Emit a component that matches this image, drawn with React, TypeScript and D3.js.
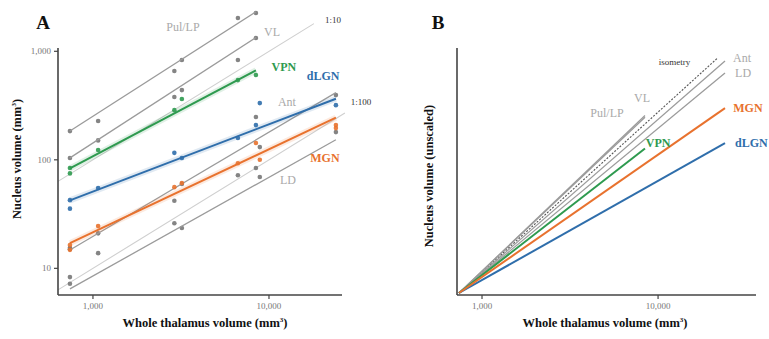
import React, { useRef, useEffect } from 'react';
import * as d3 from 'd3';

// individuals: whole thalamus volume (mm3)
const thalamusVol = [740, 740, 1070, 2900, 3200, 6660, 8430, 8870, 24000, 24000];

// nucleus volumes (mm3) per individual, null = not measured
const pulLP = [184, null, 228, 658, 832, 2026, 2254, null, null, null];
const vl = [104, null, 151, 379, 439, 832, 1327, null, null, null];
const vpn = [84, 75, 123, 287, 363, 543, 604, null, null, null];
const dlgn = [42.5, 35.5, 55, 116, 104, 159, 209, 333, 319, null];
const ant = [15.5, 15, 21, 42, 60, null, 248, 131, 395, null];
const mgn = [16.4, 14.8, 24.5, 56, 61, 93, 143, 100, 209, 196];
const ld = [8.3, 7.2, 13.8, 26, 23.5, 72, 84, 69.5, 180, null];

const nuclei = ['Pul/LP', 'VL', 'VPN', 'dLGN', 'Ant', 'MGN', 'LD'];
const nucleusValues = [pulLP, vl, vpn, dlgn, ant, mgn, ld];

// fitted allometric lines: exponent and predicted volume at 1,000 mm3
const fitSlope = [1.04, 1.05, 0.855, 0.62, 0.96, 0.765, 0.91];
const fitAt1000 = [252, 143, 108, 51, 19.7, 21.5, 8.5];

// reference ratio lines in A
const refLabels = ['1:10', '1:100'];
const refRatio = [10, 100];
const refEnd = [18000, 27000];
const isometryEnd = 21600;

const xTicks = [1000, 10000];
const yTicks = [10, 100, 1000];

const GRAY_TXT = '#a9a9a9';
const colors: Record<string, string> = {
  'Pul/LP': '#9b9b9b', VL: '#9b9b9b', Ant: '#9b9b9b', LD: '#9b9b9b',
  VPN: '#2e9a4f', dLGN: '#2f6eab', MGN: '#e8722e',
};
const labelColor: Record<string, string> = {
  'Pul/LP': GRAY_TXT, VL: GRAY_TXT, Ant: GRAY_TXT, LD: GRAY_TXT,
  VPN: '#2e9a4f', dLGN: '#2f6eab', MGN: '#e8722e',
};
const bold: Record<string, boolean> = { VPN: true, dLGN: true, MGN: true };

// label anchors (data coords)
const labelsA: [string, number, number][] = [
  ['Pul/LP', 3245, 1675], ['VL', 10400, 1506], ['VPN', 12160, 717], ['dLGN', 20300, 592],
  ['Ant', 12650, 341], ['MGN', 20800, 104], ['LD', 12830, 65],
];
const refLabelPos: [number, number][] = [[23100, 1942], [33350, 341]];
const labelsB: [string, number, number][] = [
  ['Pul/LP', 5130, 13.3], ['VL', 8110, 16.5], ['VPN', 10000, 8.66], ['Ant', 30000, 29.4],
  ['LD', 30400, 23.7], ['MGN', 32400, 14.3],
];

const FONT = '"Liberation Serif", "Times New Roman", serif';

const App = () => {
  const ref = useRef<SVGSVGElement>(null);

  useEffect(() => {
    const svg = d3.select(ref.current);
    svg.selectAll('*').remove();

    const line = d3.line<[number, number]>();

    // ---------- panel A ----------
    const xA = d3.scaleLog().domain([633, 25990]).range([58, 342]);
    const yA = d3.scaleLog().domain([5.68, 1000]).range([295, 51.3]);
    const gA = svg.append('g');

    const xDomA = xA.domain();
    // ratio lines
    refRatio.forEach((r, i) => {
      gA.append('path')
        .attr('d', line([[xA(xDomA[0]), yA(xDomA[0] / r)], [xA(refEnd[i]), yA(refEnd[i] / r)]]))
        .attr('stroke', '#cfcfcf').attr('stroke-width', 1.1).attr('fill', 'none');
      gA.append('text')
        .attr('x', xA(refLabelPos[i][0])).attr('y', yA(refLabelPos[i][1]))
        .attr('dy', '0.35em').attr('text-anchor', 'middle')
        .attr('font-family', FONT).attr('font-size', 9).attr('fill', '#333')
        .text(refLabels[i]);
    });

    const fitLine = (k: number, x0: number, x1: number, x: any, y: any) => {
      const f = (v: number) => fitAt1000[k] * Math.pow(v / 1000, fitSlope[k]);
      return line([[x(x0), y(f(x0))], [x(x1), y(f(x1))]]);
    };

    const drawOrder = [0, 1, 4, 6, 2, 3, 5];
    // gray lines and points first, coloured on top
    drawOrder.forEach((k) => {
      const name = nuclei[k];
      const vals = nucleusValues[k];
      const pts = thalamusVol.map((x, i) => [x, vals[i]] as [number, number | null])
        .filter((d) => d[1] != null) as [number, number][];
      const ext = d3.extent(pts, (d) => d[0]) as [number, number];
      const isColor = !!bold[name];
      if (isColor) {
        gA.append('path').attr('d', fitLine(k, ext[0], ext[1], xA, yA))
          .attr('stroke', colors[name]).attr('stroke-opacity', 0.15)
          .attr('stroke-width', 6).attr('fill', 'none');
      }
      gA.selectAll(null).data(pts).join('circle')
        .attr('cx', (d) => xA(d[0])).attr('cy', (d) => yA(d[1]))
        .attr('r', 2.3)
        .attr('fill', isColor ? colors[name] : '#777')
        .attr('fill-opacity', 0.9);
      gA.append('path').attr('d', fitLine(k, ext[0], ext[1], xA, yA))
        .attr('stroke', colors[name]).attr('stroke-width', isColor ? 2 : 1.3)
        .attr('fill', 'none');
    });

    labelsA.forEach(([name, x, y]) => {
      gA.append('text')
        .attr('x', xA(x)).attr('y', yA(y)).attr('dy', '0.35em')
        .attr('text-anchor', 'middle')
        .attr('font-family', FONT)
        .attr('font-size', 12)
        .attr('font-weight', bold[name] ? 'bold' : 'normal')
        .attr('fill', labelColor[name])
        .text(name);
    });

    // axes A
    const axisLine = '#444';
    gA.append('line').attr('x1', 58).attr('x2', 58).attr('y1', 48).attr('y2', 295)
      .attr('stroke', axisLine).attr('stroke-width', 1.6);
    gA.append('line').attr('x1', 58).attr('x2', 342).attr('y1', 295).attr('y2', 295)
      .attr('stroke', axisLine).attr('stroke-width', 1.6);
    yTicks.forEach((t) => {
      gA.append('line').attr('x1', 54).attr('x2', 58).attr('y1', yA(t)).attr('y2', yA(t))
        .attr('stroke', axisLine).attr('stroke-width', 1.2);
      gA.append('text').attr('x', 51).attr('y', yA(t)).attr('dy', '0.35em')
        .attr('text-anchor', 'end').attr('font-family', FONT).attr('font-size', 9)
        .attr('fill', '#777').text(d3.format(',')(t));
    });
    xTicks.forEach((t) => {
      gA.append('line').attr('x1', xA(t)).attr('x2', xA(t)).attr('y1', 295).attr('y2', 299)
        .attr('stroke', axisLine).attr('stroke-width', 1.2);
      gA.append('text').attr('x', xA(t)).attr('y', 309)
        .attr('text-anchor', 'middle').attr('font-family', FONT).attr('font-size', 9)
        .attr('fill', '#777').text(d3.format(',')(t));
    });
    const xTitle = (g: any, cx: number) => {
      const t = g.append('text').attr('x', cx).attr('y', 327).attr('text-anchor', 'middle')
        .attr('font-family', FONT).attr('font-size', 12.5).attr('font-weight', 'bold')
        .attr('fill', '#111');
      t.append('tspan').text('Whole thalamus volume (mm');
      t.append('tspan').attr('font-size', 7).attr('dy', -5).text('3');
      t.append('tspan').attr('dy', 5).text(')');
    };
    xTitle(gA, 205);
    const yTitleA = gA.append('text').attr('transform', 'translate(21,159) rotate(-90)')
      .attr('text-anchor', 'middle').attr('font-family', FONT).attr('font-size', 12.5)
      .attr('font-weight', 'bold').attr('fill', '#111');
    yTitleA.append('tspan').text('Nucleus volume (mm');
    yTitleA.append('tspan').attr('font-size', 7).attr('dy', -5).text('3');
    yTitleA.append('tspan').attr('dy', 5).text(')');
    gA.append('text').attr('x', 43).attr('y', 29).attr('text-anchor', 'middle')
      .attr('font-family', FONT).attr('font-size', 19).attr('font-weight', 'bold')
      .attr('fill', '#111').text('A');

    // ---------- panel B ----------
    const xB = d3.scaleLog().domain([721, 36000]).range([457, 756]);
    const yB = d3.scaleLog().domain([1, 34]).range([293, 48]);
    const gB = svg.append('g');
    const x0 = thalamusVol[0];

    // isometry
    gB.append('path')
      .attr('d', line([[xB(x0), yB(1)], [xB(isometryEnd), yB(isometryEnd / x0)]]))
      .attr('stroke', '#555').attr('stroke-width', 1.1).attr('stroke-dasharray', '2,1.5')
      .attr('fill', 'none');

    drawOrder.forEach((k) => {
      const name = nuclei[k];
      const vals = nucleusValues[k];
      const xs = thalamusVol.filter((_, i) => vals[i] != null);
      const x1 = d3.max(xs) as number;
      gB.append('path')
        .attr('d', line([[xB(x0), yB(1)], [xB(x1), yB(Math.pow(x1 / x0, fitSlope[k]))]]))
        .attr('stroke', colors[name]).attr('stroke-width', bold[name] ? 2 : 1.3)
        .attr('fill', 'none');
    });

    labelsB.forEach(([name, x, y]) => {
      gB.append('text')
        .attr('x', xB(x)).attr('y', yB(y)).attr('dy', '0.35em')
        .attr('text-anchor', 'middle').attr('font-family', FONT).attr('font-size', 12)
        .attr('font-weight', bold[name] ? 'bold' : 'normal')
        .attr('fill', labelColor[name]).text(name);
    });
    gB.append('text').attr('x', xB(27380)).attr('y', yB(8.66)).attr('dy', '0.35em')
      .attr('text-anchor', 'start').attr('font-family', FONT).attr('font-size', 12)
      .attr('font-weight', 'bold').attr('fill', labelColor.dLGN).text('dLGN');
    gB.append('text').attr('x', xB(12400)).attr('y', yB(27.8)).attr('dy', '0.35em')
      .attr('text-anchor', 'middle').attr('font-family', FONT).attr('font-size', 9)
      .attr('fill', '#333').text('isometry');

    gB.append('line').attr('x1', 457).attr('x2', 457).attr('y1', 48).attr('y2', 295)
      .attr('stroke', axisLine).attr('stroke-width', 1.6);
    gB.append('line').attr('x1', 457).attr('x2', 756).attr('y1', 295).attr('y2', 295)
      .attr('stroke', axisLine).attr('stroke-width', 1.6);
    xTicks.forEach((t) => {
      gB.append('line').attr('x1', xB(t)).attr('x2', xB(t)).attr('y1', 295).attr('y2', 299)
        .attr('stroke', axisLine).attr('stroke-width', 1.2);
      gB.append('text').attr('x', xB(t)).attr('y', 309)
        .attr('text-anchor', 'middle').attr('font-family', FONT).attr('font-size', 9)
        .attr('fill', '#777').text(d3.format(',')(t));
    });
    xTitle(gB, 605);
    gB.append('text').attr('transform', 'translate(433,176) rotate(-90)')
      .attr('text-anchor', 'middle').attr('font-family', FONT).attr('font-size', 12.5)
      .attr('font-weight', 'bold').attr('fill', '#111').text('Nucleus volume (unscaled)');
    gB.append('text').attr('x', 438).attr('y', 29).attr('text-anchor', 'middle')
      .attr('font-family', FONT).attr('font-size', 19).attr('font-weight', 'bold')
      .attr('fill', '#111').text('B');
  }, []);

  return (
    <svg ref={ref} width={769} height={339}
      style={{ position: 'absolute', left: 0, top: 0, background: '#fff' }} />
  );
};

export default App;
